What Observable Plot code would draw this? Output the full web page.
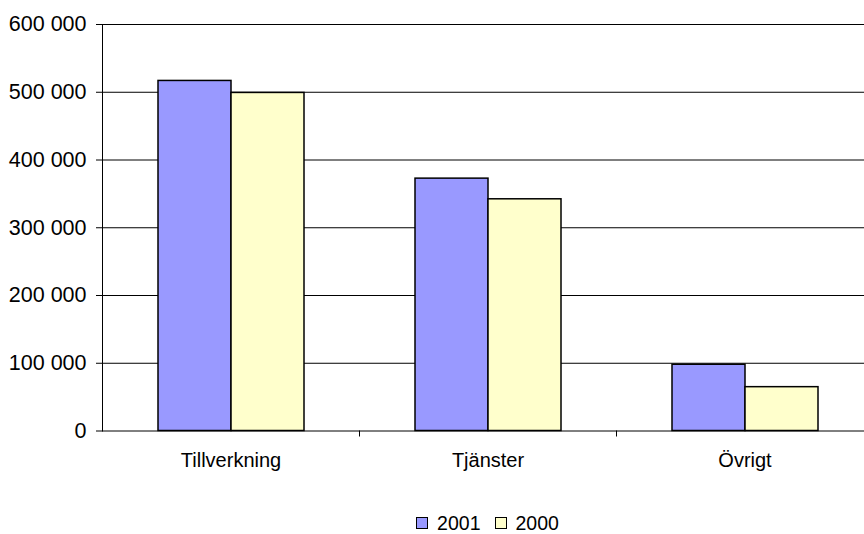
<!DOCTYPE html>
<html><head><meta charset="utf-8">
<script src="https://cdn.jsdelivr.net/npm/d3@7"></script>
<script src="https://cdn.jsdelivr.net/npm/@observablehq/plot@0.6"></script>
<style>
html,body{margin:0;padding:0;background:#fff;overflow:hidden;}
body{font-family:"Liberation Sans",Arial,sans-serif;width:864px;height:534px;position:relative;}
#legend{position:absolute;left:102px;width:771px;top:512px;height:22px;display:flex;justify-content:center;align-items:center;font-size:19.5px;color:#000;}
.item{display:flex;align-items:center;margin:0 7px;}
.sw{width:10px;height:10px;border:1px solid #000;margin-right:9px;}
</style></head><body>
<div id="chart"></div>
<div id="legend"></div>
<script>
const categories = ["Tillverkning", "Tjänster", "Övrigt"];
const years = ["2001", "2000"];
const values2001 = [516700, 372500, 97800];
const values2000 = [499000, 342000, 64700];
const yTicks = [0, 100000, 200000, 300000, 400000, 500000, 600000];
const colors = ["#9999FF", "#FFFFCC"];

const data = categories.flatMap((c, i) => [
  {category: c, year: years[0], value: values2001[i]},
  {category: c, year: years[1], value: values2000[i]}
]);
const fmt = d => d3.format(",")(d).replace(/,/g, " ");

const plot = Plot.plot({
  width: 864, height: 500,
  marginLeft: 102, marginRight: -9, marginTop: 24, marginBottom: 69.5,
  style: {fontFamily: "Liberation Sans, Arial, sans-serif", fontSize: "20px", color: "#000", background: "#fff", overflow: "hidden"},
  fx: {domain: categories, padding: 0, label: null, axis: "bottom", tickSize: 0, tickPadding: 22},
  x: {domain: years, paddingInner: 0, paddingOuter: 0.75, axis: null},
  y: {domain: [0, 600000], ticks: yTicks, tickFormat: fmt, tickSize: 6, tickPadding: 10, line: true, label: null},
  color: {domain: years, range: colors},
  marks: [
    Plot.ruleY(yTicks.slice(1), {stroke: "#000", strokeWidth: 1}),
    Plot.barY(data, {fx: "category", x: "year", y: "value", fill: "year", stroke: "#000", strokeWidth: 1.5}),
    Plot.ruleY([0], {stroke: "#000"})
  ]
});
document.getElementById("chart").appendChild(plot);

const svg = d3.select(plot);
svg.selectAll('g[aria-label="y-axis tick label"]').attr("font-size", "21.5px");

// category boundary ticks below the x axis
const fx = plot.scale("fx"), y = plot.scale("y");
const bw = fx.bandwidth != null ? fx.bandwidth : (fx.range[1] - fx.range[0]) / categories.length;
const y0 = y.apply(0);
categories.slice(0, -1).forEach(c => {
  const xb = Math.round(fx.apply(c) + bw) + 0.5;
  svg.append("line").attr("x1", xb).attr("x2", xb).attr("y1", y0).attr("y2", y0 + 6)
    .attr("stroke", "#000").attr("stroke-width", 1);
});

const legend = d3.select("#legend");
years.forEach((yr, i) => {
  const it = legend.append("div").attr("class", "item");
  it.append("div").attr("class", "sw").style("background", colors[i]);
  it.append("span").text(yr);
});
</script>
</body></html>
